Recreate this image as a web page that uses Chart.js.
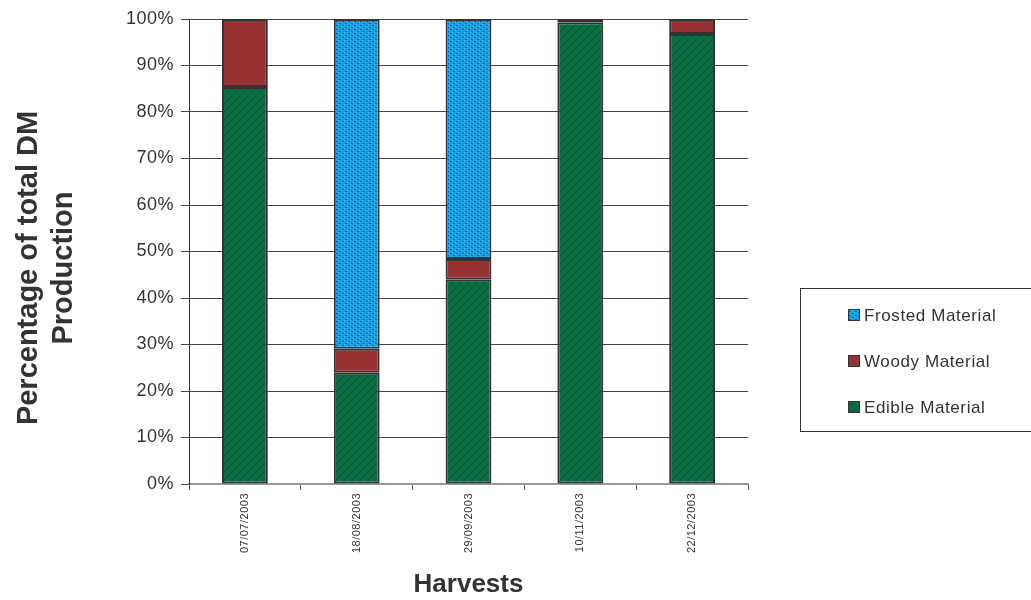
<!DOCTYPE html>
<html>
<head>
<meta charset="utf-8">
<script src="https://cdn.jsdelivr.net/npm/chart.js@4.4.1/dist/chart.umd.min.js"></script>
<style>
  html, body { margin: 0; padding: 0; background: #ffffff; }
  #wrap { width: 1031px; height: 600px; position: relative; }
</style>
</head>
<body>
<div id="wrap"><canvas id="c" width="1031" height="600"></canvas></div>
<script>
// Harvest dates
const harvests = ['07/07/2003', '18/08/2003', '29/09/2003', '10/11/2003', '22/12/2003'];
// Share of total dry-matter production (%) per component
const edible  = [85.4, 23.9, 43.9, 99.3, 96.8];
const woody   = [14.6, 5.2, 4.5, 0.7, 3.2];
const frosted = [0, 70.9, 51.6, 0, 0];
// Y axis tick values (%)
const yTicks = [0, 10, 20, 30, 40, 50, 60, 70, 80, 90, 100];
// Axis titles
const xTitle = 'Harvests';
const yTitle = ['Percentage of total DM', 'Production'];

const FONT = '"Liberation Sans", Arial, sans-serif';
const TEXT = '#333333';

// Textured fills for the bars
function makePattern(kind) {
  const p = document.createElement('canvas');
  const g = p.getContext('2d');
  if (kind === 'edible') {
    p.width = 8; p.height = 8;
    g.fillStyle = '#0b6a42';
    g.fillRect(0, 0, 8, 8);
    g.strokeStyle = '#1d4a36';
    g.lineWidth = 1;
    g.beginPath();
    g.moveTo(0, 8); g.lineTo(8, 0);
    g.moveTo(-4, 4); g.lineTo(4, -4);
    g.moveTo(4, 12); g.lineTo(12, 4);
    g.stroke();
    g.strokeStyle = '#0f7a4c';
    g.beginPath();
    g.moveTo(0, 4); g.lineTo(4, 8);
    g.moveTo(4, 0); g.lineTo(8, 4);
    g.stroke();
  } else {
    p.width = 6; p.height = 4;
    g.fillStyle = '#15a0e6';
    g.fillRect(0, 0, 6, 4);
    g.fillStyle = '#1a5f8a';
    g.fillRect(0, 1, 2, 1);
    g.fillRect(3, 3, 2, 1);
    g.fillStyle = '#4cc0f2';
    g.fillRect(2, 0, 1, 1);
    g.fillRect(5, 2, 1, 1);
  }
  return g.createPattern(p, 'repeat');
}

const edibleFill = makePattern('edible');
const frostedFill = makePattern('frosted');
const woodyFill = '#993333';

// Slightly widened lettering for all chart text
const spacing = {
  id: 'spacing',
  beforeLayout(chart) { chart.ctx.letterSpacing = '0.5px'; },
  beforeDraw(chart) { chart.ctx.letterSpacing = '0.5px'; }
};

// Axis titles and boxed legend
const decorations = {
  id: 'decorations',
  afterDraw(chart) {
    const ctx = chart.ctx;
    const area = chart.chartArea;
    ctx.save();
    ctx.letterSpacing = '0px';
    ctx.fillStyle = TEXT;

    // x axis title
    ctx.font = 'bold 26px ' + FONT;
    ctx.textAlign = 'center';
    ctx.textBaseline = 'alphabetic';
    ctx.fillText(xTitle, (area.left + area.right) / 2, 592);

    // y axis title (two lines, reading upward)
    ctx.font = 'bold 29px ' + FONT;
    [37, 72].forEach((bx, i) => {
      ctx.save();
      ctx.translate(bx, 268);
      ctx.rotate(-Math.PI / 2);
      ctx.fillText(yTitle[i], 0, 0);
      ctx.restore();
    });

    // legend box
    const x0 = 800, y0 = 288, w = 240, h = 143;
    ctx.strokeStyle = TEXT;
    ctx.lineWidth = 1;
    ctx.strokeRect(x0 + 0.5, y0 + 0.5, w, h);
    const items = chart.data.datasets.slice().reverse();
    ctx.font = '17px ' + FONT;
    ctx.letterSpacing = '0.6px';
    ctx.textAlign = 'left';
    ctx.textBaseline = 'middle';
    items.forEach((ds, i) => {
      const cy = 315 + i * 46;
      ctx.fillStyle = ds.backgroundColor;
      ctx.fillRect(848, cy - 6, 12, 12);
      ctx.strokeStyle = TEXT;
      ctx.lineWidth = 1;
      ctx.strokeRect(848.5, cy - 5.5, 11, 11);
      ctx.fillStyle = TEXT;
      ctx.fillText(ds.label, 864, cy + 1);
    });
    ctx.restore();
  }
};

const barStyle = { borderColor: '#333333', borderWidth: 2, borderSkipped: false,
                   barPercentage: 0.41, categoryPercentage: 1.0 };

new Chart(document.getElementById('c'), {
  type: 'bar',
  data: {
    labels: harvests,
    datasets: [
      Object.assign({ label: 'Edible Material', data: edible, backgroundColor: edibleFill }, barStyle),
      Object.assign({ label: 'Woody Material', data: woody, backgroundColor: woodyFill }, barStyle),
      Object.assign({ label: 'Frosted Material', data: frosted, backgroundColor: frostedFill }, barStyle)
    ]
  },
  options: {
    responsive: false,
    animation: false,
    layout: { padding: { top: 19, right: 283, left: 0, bottom: 0 } },
    plugins: {
      legend: { display: false },
      tooltip: { enabled: false }
    },
    scales: {
      x: {
        stacked: true,
        grid: { display: true, drawOnChartArea: false, drawTicks: true, tickLength: 6,
                color: '#555555', offset: true },
        border: { display: true, color: '#999999', width: 2 },
        ticks: {
          color: TEXT, minRotation: 90, maxRotation: 90, padding: 3,
          font: { family: FONT, size: 11 }
        },
        afterFit(scale) { scale.height = 116; }
      },
      y: {
        stacked: true,
        min: 0, max: 100,
        afterBuildTicks(scale) { scale.ticks = yTicks.map(v => ({ value: v })); },
        grid: { color: '#444444', lineWidth: 1, tickLength: 8, drawTicks: true },
        border: { display: true, color: '#333333', width: 1 },
        ticks: {
          color: TEXT, padding: 7,
          font: { family: FONT, size: 18 },
          callback: v => v + '%'
        },
        afterFit(scale) { scale.width = 189; }
      }
    }
  },
  plugins: [spacing, decorations]
});
</script>
</body>
</html>
